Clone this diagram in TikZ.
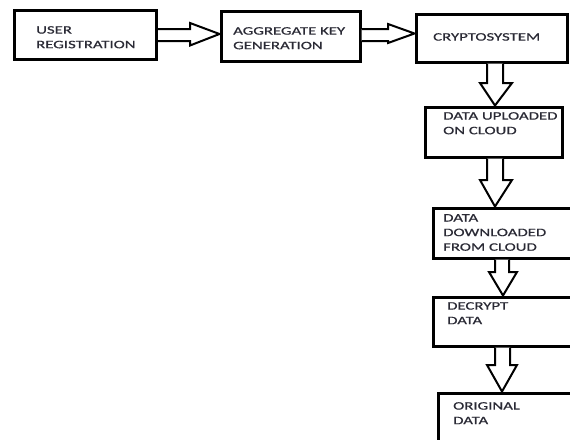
\documentclass[tikz,border=0pt]{standalone}
\usepackage{fontspec}
\newfontfamily\boxfont[FakeStretch=1.47,FakeBold=0.6]{Carlito}
\definecolor{txt}{HTML}{2A2A35}
\begin{document}
\begin{tikzpicture}[x=1pt,y=-1pt,
  box/.style={draw=black,line width=3pt,inner sep=0pt,fill=white},
  lbl/.style={anchor=north west,inner sep=0pt,align=left,text=txt,
    font=\boxfont\fontsize{11.4}{14.6}\selectfont},
  blockarrow/.style={draw=black,line width=2pt,fill=white,line join=miter}]
\useasboundingbox (0,0) rectangle (570,439);
% boxes
\node[box,minimum width=142pt,minimum height=48.5pt] (b1) at (85.5,34.75) {};
\node[box,minimum width=139pt,minimum height=50pt] (b2) at (290.5,36) {};
\node[box,minimum width=151pt,minimum height=48pt] (b3) at (491.5,38) {};
\node[box,minimum width=137pt,minimum height=50pt] (b4) at (493.5,132) {};
\node[box,minimum width=142pt,minimum height=50pt] (b5) at (504,233) {};
\node[box,minimum width=142pt,minimum height=49pt] (b6) at (504,321.5) {};
\node[box,minimum width=137pt,minimum height=52pt] (b7) at (506.5,419) {};
% labels
\node[lbl] (t1) at (36,26) {USER\\REGISTRATION};
\node[lbl] (t2) at (233,27) {AGGREGATE KEY\\GENERATION};
\node[lbl] (t3) at (433,33) {CRYPTOSYSTEM};
\node[lbl] (t4) at (443,112) {DATA UPLOADED\\ON CLOUD};
\node[lbl] (t5) at (443,214) {DATA\\DOWNLOADED\\FROM CLOUD};
\node[lbl] (t6) at (447,302) {DECRYPT\\DATA};
\node[lbl] (t7) at (453,402) {ORIGINAL\\DATA};
% block arrows
\draw[blockarrow] (b1.east |- 0,29) -- (190,29) -- (190,23) -- (b2.west |- 0,34) -- (190,45.5) -- (190,41) -- (b1.east |- 0,41);
\draw[blockarrow] (b2.east |- 0,29) -- (388,29) -- (388,24) -- (b3.west |- 0,33.5) -- (388,43) -- (388,41) -- (b2.east |- 0,41);
\draw[blockarrow] (487,0 |- b3.south) -- (487,83) -- (480,83) -- (495,0 |- b4.north) -- (512,83) -- (503,83) -- (503,0 |- b3.south);
\draw[blockarrow] (487,0 |- b4.south) -- (487,180) -- (480,180) -- (495,0 |- b5.north) -- (512,180) -- (503,180) -- (503,0 |- b4.south);
\draw[blockarrow] (495,0 |- b5.south) -- (495,272) -- (489,272) -- (503,0 |- b6.north) -- (517,272) -- (509,272) -- (509,0 |- b5.south);
\draw[blockarrow] (495,0 |- b6.south) -- (495,365) -- (487,365) -- (502,0 |- b7.north) -- (517,365) -- (510,365) -- (510,0 |- b6.south);
\end{tikzpicture}
\end{document}
